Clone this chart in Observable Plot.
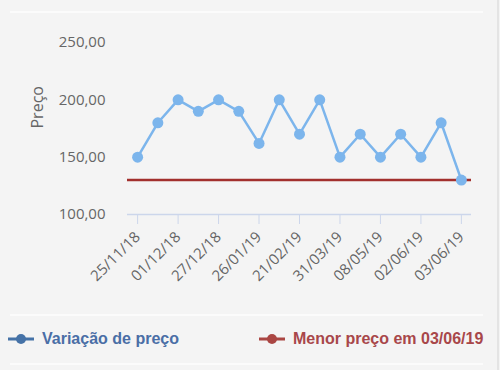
<!DOCTYPE html>
<html>
<head>
<meta charset="utf-8">
<script src="https://cdn.jsdelivr.net/npm/d3@7"></script>
<script src="https://cdn.jsdelivr.net/npm/@observablehq/plot@0.6"></script>
<style>
  html, body { margin: 0; padding: 0; background: #f4f4f4; }
  #wrap { position: relative; width: 500px; height: 370px; overflow: hidden; background: #f4f4f4; }
  #chart { position: absolute; left: 0; top: 0; }
  .hline { position: absolute; left: 10px; width: 473px; height: 2px; background: #fbfbfb; }
  .vline { position: absolute; left: 497px; top: 0; width: 2px; height: 370px; background: #e4e4e4; }
  .leg { position: absolute; top: 330px; font: bold 16px "Liberation Sans", Arial, sans-serif; display: flex; align-items: center; white-space: nowrap; }
  .leg svg { margin-right: 8px; }
</style>
</head>
<body>
<div id="wrap">
  <div class="hline" style="top:11px"></div>
  <div id="chart"></div>
  <div class="hline" style="top:314px"></div>
  <div class="hline" style="top:363px"></div>
  <div class="vline"></div>
  <div class="leg" style="left:8px; color:#4a6ea6">
    <svg width="26" height="12"><line x1="0" y1="6" x2="26" y2="6" stroke="#4572a7" stroke-width="3"/><circle cx="13" cy="6" r="5" fill="#4572a7"/></svg>
    Variação de preço
  </div>
  <div class="leg" style="left:259px; color:#a8474a">
    <svg width="26" height="12"><line x1="0" y1="6" x2="26" y2="6" stroke="#aa4643" stroke-width="3"/><circle cx="13" cy="6" r="5" fill="#aa4643"/></svg>
    Menor preço em 03/06/19
  </div>
</div>
<script>
const tickLabels = ["25/11/18", "01/12/18", "27/12/18", "26/01/19", "21/02/19", "31/03/19", "08/05/19", "02/06/19", "03/06/19"];
const prices = [150, 180, 200, 190, 200, 190, 162, 200, 170, 200, 150, 170, 150, 170, 150, 180, 130];
const lowestPrice = 130;
const yTicks = [100, 150, 200, 250];
const yLabel = "Preço";

const data = prices.map((v, i) => ({i, v}));
const xTicks = tickLabels.map((_, k) => k * 2);
const fmt = d => d.toFixed(2).replace(".", ",");

const chart = Plot.plot({
  width: 500,
  height: 305,
  marginLeft: 127,
  marginRight: 29,
  marginTop: 42,
  marginBottom: 91,
  style: {background: "transparent", fontFamily: "'Open Sans', sans-serif", fontSize: "15px", color: "#666"},
  x: {domain: [-0.5, prices.length - 0.5]},
  y: {domain: [100, 250]},
  marks: [
    Plot.gridY(yTicks.filter(t => t > 100), {stroke: "#e4e4e4", strokeOpacity: 1, strokeWidth: 1.5, x1: 125, x2: 473}),
    Plot.ruleY([100], {stroke: "#ccd6eb", strokeWidth: 1.5}),
    Plot.axisY({ticks: yTicks, tickFormat: fmt, tickSize: 0, tickPadding: 22, label: null, fill: "#666", fontSize: 15}),
    Plot.axisX({ticks: xTicks, tickFormat: i => tickLabels[i / 2], tickRotate: -45, tickSize: 10, tickPadding: 10, stroke: "#ccd6eb", label: null, fill: "#666", fontSize: 15}),
    Plot.text([yLabel], {frameAnchor: "left", dx: -90, rotate: -90, fill: "#666", fontSize: 16}),
    Plot.ruleY([lowestPrice], {stroke: "#a2302d", strokeWidth: 2.5}),
    Plot.line(data, {x: "i", y: "v", stroke: "#7cb5ec", strokeWidth: 2.5}),
    Plot.dot(data, {x: "i", y: "v", r: 5.5, fill: "#7cb5ec", stroke: "none"})
  ]
});
document.getElementById("chart").appendChild(chart);
</script>
</body>
</html>
